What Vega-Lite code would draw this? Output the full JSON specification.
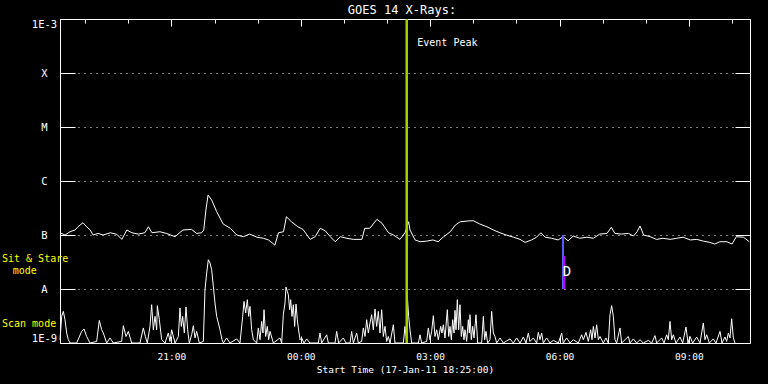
{
"$schema": "https://vega.github.io/schema/vega-lite/v6.json",
"width": 690, "height": 324,
"autosize": {"type": "none"},
"padding": {"left": 60, "top": 19, "right": 18, "bottom": 41},
"background": "black",
"title": {"text": "GOES 14 X-Rays:", "color": "white", "font": "DejaVu Sans Mono", "fontSize": 12, "fontWeight": "normal", "offset": 1, "dx": -3},
"config": {
 "view": {"stroke": "white", "strokeWidth": 1},
 "axis": {"labelFont": "DejaVu Sans Mono", "titleFont": "DejaVu Sans Mono", "labelColor": "white", "titleColor": "white", "tickColor": "white", "domainColor": "white", "titleFontWeight": "normal", "tickWidth": 1},
 "text": {"font": "DejaVu Sans Mono"}
},
"datasets": {
"u": [
{"t":"2011-01-17T18:25:00Z","f":1.10e-7},{"t":"2011-01-17T18:32:00Z","f":1.00e-7},{"t":"2011-01-17T18:39:00Z","f":1.15e-7},{"t":"2011-01-17T18:46:00Z","f":1.24e-7},{"t":"2011-01-17T18:50:00Z","f":1.42e-7},{"t":"2011-01-17T18:57:00Z","f":1.69e-7},{"t":"2011-01-17T19:02:00Z","f":1.42e-7},{"t":"2011-01-17T19:07:00Z","f":1.24e-7},{"t":"2011-01-17T19:11:00Z","f":1.00e-7},{"t":"2011-01-17T19:18:00Z","f":1.07e-7},{"t":"2011-01-17T19:25:00Z","f":1.00e-7},{"t":"2011-01-17T19:35:00Z","f":1.10e-7},{"t":"2011-01-17T19:44:00Z","f":1.03e-7},{"t":"2011-01-17T19:51:00Z","f":8.3e-8},{"t":"2011-01-17T19:58:00Z","f":1.24e-7},{"t":"2011-01-17T20:05:00Z","f":1.10e-7},{"t":"2011-01-17T20:14:00Z","f":1.04e-7},{"t":"2011-01-17T20:23:00Z","f":1.10e-7},{"t":"2011-01-17T20:28:00Z","f":1.42e-7},{"t":"2011-01-17T20:33:00Z","f":1.10e-7},{"t":"2011-01-17T20:44:00Z","f":1.15e-7},{"t":"2011-01-17T20:53:00Z","f":1.07e-7},{"t":"2011-01-17T21:05:00Z","f":9.3e-8},{"t":"2011-01-17T21:16:00Z","f":1.24e-7},{"t":"2011-01-17T21:28:00Z","f":1.27e-7},{"t":"2011-01-17T21:35:00Z","f":1.07e-7},{"t":"2011-01-17T21:42:00Z","f":1.10e-7},{"t":"2011-01-17T21:45:00Z","f":1.24e-7},{"t":"2011-01-17T21:48:00Z","f":2.9e-7},{"t":"2011-01-17T21:51:00Z","f":5.5e-7},{"t":"2011-01-17T21:56:00Z","f":4.45e-7},{"t":"2011-01-17T22:03:00Z","f":2.7e-7},{"t":"2011-01-17T22:12:00Z","f":1.6e-7},{"t":"2011-01-17T22:22:00Z","f":1.33e-7},{"t":"2011-01-17T22:31:00Z","f":1.0e-7},{"t":"2011-01-17T22:40:00Z","f":9.3e-8},{"t":"2011-01-17T22:49:00Z","f":1.04e-7},{"t":"2011-01-17T22:59:00Z","f":9.1e-8},{"t":"2011-01-17T23:08:00Z","f":8.7e-8},{"t":"2011-01-17T23:15:00Z","f":8.1e-8},{"t":"2011-01-17T23:24:00Z","f":6.5e-8},{"t":"2011-01-17T23:29:00Z","f":1.10e-7},{"t":"2011-01-17T23:36:00Z","f":1.15e-7},{"t":"2011-01-17T23:40:00Z","f":2.18e-7},{"t":"2011-01-17T23:47:00Z","f":1.76e-7},{"t":"2011-01-17T23:56:00Z","f":1.42e-7},
{"t":"2011-01-18T00:03:00Z","f":1.27e-7},{"t":"2011-01-18T00:13:00Z","f":8.3e-8},{"t":"2011-01-18T00:20:00Z","f":9.3e-8},{"t":"2011-01-18T00:27:00Z","f":1.33e-7},{"t":"2011-01-18T00:34:00Z","f":1.20e-7},{"t":"2011-01-18T00:41:00Z","f":9.3e-8},{"t":"2011-01-18T00:48:00Z","f":7.5e-8},{"t":"2011-01-18T00:55:00Z","f":9.3e-8},{"t":"2011-01-18T01:04:00Z","f":8.7e-8},{"t":"2011-01-18T01:13:00Z","f":8.3e-8},{"t":"2011-01-18T01:25:00Z","f":8.3e-8},{"t":"2011-01-18T01:29:00Z","f":1.33e-7},{"t":"2011-01-18T01:36:00Z","f":1.33e-7},{"t":"2011-01-18T01:46:00Z","f":1.95e-7},{"t":"2011-01-18T01:53:00Z","f":1.65e-7},{"t":"2011-01-18T02:02:00Z","f":1.10e-7},{"t":"2011-01-18T02:09:00Z","f":1.0e-7},{"t":"2011-01-18T02:18:00Z","f":8.3e-8},{"t":"2011-01-18T02:25:00Z","f":1.10e-7},{"t":"2011-01-18T02:30:00Z","f":1.76e-7},{"t":"2011-01-18T02:32:00Z","f":1.24e-7},{"t":"2011-01-18T02:39:00Z","f":8.1e-8},{"t":"2011-01-18T02:46:00Z","f":7.5e-8},{"t":"2011-01-18T02:55:00Z","f":7.7e-8},{"t":"2011-01-18T03:04:00Z","f":8.1e-8},{"t":"2011-01-18T03:11:00Z","f":7.5e-8},{"t":"2011-01-18T03:18:00Z","f":9.1e-8},{"t":"2011-01-18T03:28:00Z","f":1.15e-7},{"t":"2011-01-18T03:35:00Z","f":1.53e-7},{"t":"2011-01-18T03:42:00Z","f":1.76e-7},{"t":"2011-01-18T03:53:00Z","f":1.82e-7},{"t":"2011-01-18T04:00:00Z","f":1.84e-7},{"t":"2011-01-18T04:09:00Z","f":1.6e-7},{"t":"2011-01-18T04:19:00Z","f":1.42e-7},{"t":"2011-01-18T04:28:00Z","f":1.24e-7},{"t":"2011-01-18T04:37:00Z","f":1.10e-7},{"t":"2011-01-18T04:46:00Z","f":1.0e-7},{"t":"2011-01-18T04:56:00Z","f":9.1e-8},{"t":"2011-01-18T05:05:00Z","f":8.3e-8},{"t":"2011-01-18T05:12:00Z","f":7.3e-8},{"t":"2011-01-18T05:21:00Z","f":8.1e-8},{"t":"2011-01-18T05:28:00Z","f":9.1e-8},{"t":"2011-01-18T05:34:00Z","f":1.10e-7},{"t":"2011-01-18T05:40:00Z","f":9.1e-8},{"t":"2011-01-18T05:49:00Z","f":8.7e-8},{"t":"2011-01-18T05:58:00Z","f":8.1e-8},{"t":"2011-01-18T06:05:00Z","f":9.3e-8},{"t":"2011-01-18T06:12:00Z","f":7.8e-8},{"t":"2011-01-18T06:19:00Z","f":9.6e-8},{"t":"2011-01-18T06:28:00Z","f":8.7e-8},{"t":"2011-01-18T06:38:00Z","f":9.1e-8},{"t":"2011-01-18T06:47:00Z","f":8.7e-8},{"t":"2011-01-18T06:56:00Z","f":1.04e-7},{"t":"2011-01-18T07:06:00Z","f":1.07e-7},{"t":"2011-01-18T07:12:00Z","f":1.39e-7},{"t":"2011-01-18T07:17:00Z","f":1.07e-7},{"t":"2011-01-18T07:26:00Z","f":1.04e-7},{"t":"2011-01-18T07:36:00Z","f":1.07e-7},{"t":"2011-01-18T07:43:00Z","f":9.6e-8},{"t":"2011-01-18T07:48:00Z","f":1.15e-7},{"t":"2011-01-18T07:52:00Z","f":1.47e-7},{"t":"2011-01-18T07:57:00Z","f":1.0e-7},{"t":"2011-01-18T08:06:00Z","f":9.3e-8},{"t":"2011-01-18T08:15:00Z","f":8.3e-8},{"t":"2011-01-18T08:24:00Z","f":8.7e-8},{"t":"2011-01-18T08:34:00Z","f":8.3e-8},{"t":"2011-01-18T08:43:00Z","f":8.7e-8},{"t":"2011-01-18T08:52:00Z","f":9.1e-8},{"t":"2011-01-18T09:02:00Z","f":8.1e-8},{"t":"2011-01-18T09:11:00Z","f":8.3e-8},{"t":"2011-01-18T09:20:00Z","f":7.7e-8},{"t":"2011-01-18T09:29:00Z","f":7.3e-8},{"t":"2011-01-18T09:36:00Z","f":6.8e-8},{"t":"2011-01-18T09:43:00Z","f":7.5e-8},{"t":"2011-01-18T09:53:00Z","f":7.5e-8},{"t":"2011-01-18T10:00:00Z","f":6.8e-8},{"t":"2011-01-18T10:06:00Z","f":9.3e-8},{"t":"2011-01-18T10:16:00Z","f":9.1e-8},{"t":"2011-01-18T10:24:00Z","f":7.5e-8}
],
"s": [
{"t":"2011-01-17T18:25:00Z","f":1.15e-9},{"t":"2011-01-17T18:27:19Z","f":3.11e-9},{"t":"2011-01-17T18:29:38Z","f":3.85e-9},{"t":"2011-01-17T18:31:57Z","f":2.70e-9},{"t":"2011-01-17T18:34:17Z","f":1.53e-9},{"t":"2011-01-17T18:36:36Z","f":1.15e-9},{"t":"2011-01-17T18:38:55Z","f":1e-9},{"t":"2011-01-17T18:48:11Z","f":1e-9},{"t":"2011-01-17T18:55:09Z","f":1.64e-9},{"t":"2011-01-17T18:58:23Z","f":1.82e-9},{"t":"2011-01-17T19:02:06Z","f":1.32e-9},{"t":"2011-01-17T19:06:44Z","f":1e-9},{"t":"2011-01-17T19:16:01Z","f":1.07e-9},{"t":"2011-01-17T19:19:43Z","f":2.62e-9},{"t":"2011-01-17T19:22:58Z","f":1.76e-9},{"t":"2011-01-17T19:25:17Z","f":1.53e-9},{"t":"2011-01-17T19:29:56Z","f":1e-9},{"t":"2011-01-17T19:34:34Z","f":1.24e-9},{"t":"2011-01-17T19:39:12Z","f":1e-9},{"t":"2011-01-17T19:50:48Z","f":1.07e-9},{"t":"2011-01-17T19:53:07Z","f":2.09e-9},{"t":"2011-01-17T19:56:50Z","f":1.32e-9},{"t":"2011-01-17T20:00:04Z","f":1.64e-9},{"t":"2011-01-17T20:04:43Z","f":1e-9},{"t":"2011-01-17T20:16:18Z","f":1e-9},{"t":"2011-01-17T20:20:56Z","f":1.90e-9},{"t":"2011-01-17T20:23:44Z","f":1.32e-9},{"t":"2011-01-17T20:26:31Z","f":1e-9},{"t":"2011-01-17T20:30:13Z","f":2.03e-9},{"t":"2011-01-17T20:32:32Z","f":5.12e-9},{"t":"2011-01-17T20:34:52Z","f":1.76e-9},{"t":"2011-01-17T20:37:10Z","f":3.11e-9},{"t":"2011-01-17T20:39:29Z","f":1.76e-9},{"t":"2011-01-17T20:40:25Z","f":4.91e-9},{"t":"2011-01-17T20:43:12Z","f":2.70e-9},{"t":"2011-01-17T20:46:27Z","f":1.15e-9},{"t":"2011-01-17T20:51:05Z","f":1e-9},{"t":"2011-01-17T20:55:44Z","f":1.53e-9},{"t":"2011-01-17T20:58:02Z","f":1.07e-9},{"t":"2011-01-17T21:00:22Z","f":1.76e-9},{"t":"2011-01-17T21:05:00Z","f":1e-9},{"t":"2011-01-17T21:09:38Z","f":1.32e-9},{"t":"2011-01-17T21:11:58Z","f":4.45e-9},{"t":"2011-01-17T21:13:49Z","f":2.03e-9},{"t":"2011-01-17T21:15:40Z","f":3.11e-9},{"t":"2011-01-17T21:17:59Z","f":1.53e-9},{"t":"2011-01-17T21:20:19Z","f":4.64e-9},{"t":"2011-01-17T21:22:37Z","f":1.76e-9},{"t":"2011-01-17T21:24:56Z","f":1e-9},{"t":"2011-01-17T21:28:11Z","f":1.42e-9},{"t":"2011-01-17T21:30:31Z","f":2.09e-9},{"t":"2011-01-17T21:32:50Z","f":1.24e-9},{"t":"2011-01-17T21:35:09Z","f":1.64e-9},{"t":"2011-01-17T21:38:52Z","f":1e-9},{"t":"2011-01-17T21:44:25Z","f":1.07e-9},{"t":"2011-01-17T21:46:44Z","f":9.7e-9},{"t":"2011-01-17T21:49:04Z","f":1.98e-8},{"t":"2011-01-17T21:51:23Z","f":3.49e-8},{"t":"2011-01-17T21:53:42Z","f":3.03e-8},{"t":"2011-01-17T21:56:01Z","f":2.28e-8},{"t":"2011-01-17T21:58:20Z","f":1.12e-8},{"t":"2011-01-17T22:00:39Z","f":5.51e-9},{"t":"2011-01-17T22:02:58Z","f":3.11e-9},{"t":"2011-01-17T22:05:17Z","f":2.35e-9},{"t":"2011-01-17T22:07:37Z","f":1.76e-9},{"t":"2011-01-17T22:10:23Z","f":1.15e-9},{"t":"2011-01-17T22:12:15Z","f":1e-9},{"t":"2011-01-17T22:16:53Z","f":1.24e-9},{"t":"2011-01-17T22:21:31Z","f":1e-9},{"t":"2011-01-17T22:30:48Z","f":1.19e-9},{"t":"2011-01-17T22:35:26Z","f":1e-9},{"t":"2011-01-17T22:39:09Z","f":3.11e-9},{"t":"2011-01-17T22:41:00Z","f":5.89e-9},{"t":"2011-01-17T22:43:19Z","f":3.59e-9},{"t":"2011-01-17T22:45:38Z","f":6.34e-9},{"t":"2011-01-17T22:47:29Z","f":3.11e-9},{"t":"2011-01-17T22:49:21Z","f":4.76e-9},{"t":"2011-01-17T22:51:40Z","f":1.76e-9},{"t":"2011-01-17T22:53:59Z","f":1.15e-9},{"t":"2011-01-17T22:58:37Z","f":1e-9},{"t":"2011-01-17T23:00:56Z","f":1.90e-9},{"t":"2011-01-17T23:03:16Z","f":1.15e-9},{"t":"2011-01-17T23:05:35Z","f":2.51e-9},{"t":"2011-01-17T23:07:26Z","f":1.53e-9},{"t":"2011-01-17T23:08:50Z","f":4.14e-9},{"t":"2011-01-17T23:11:09Z","f":1.32e-9},{"t":"2011-01-17T23:13:28Z","f":2.03e-9},{"t":"2011-01-17T23:15:19Z","f":1.15e-9},{"t":"2011-01-17T23:17:11Z","f":1.64e-9},{"t":"2011-01-17T23:21:49Z","f":1e-9},{"t":"2011-01-17T23:31:05Z","f":1.24e-9},{"t":"2011-01-17T23:33:25Z","f":1e-9},{"t":"2011-01-17T23:35:44Z","f":3.34e-9},{"t":"2011-01-17T23:38:02Z","f":5.51e-9},{"t":"2011-01-17T23:39:26Z","f":1.09e-8},{"t":"2011-01-17T23:41:17Z","f":9.03e-9},{"t":"2011-01-17T23:42:41Z","f":7.84e-9},{"t":"2011-01-17T23:44:32Z","f":4.14e-9},{"t":"2011-01-17T23:45:56Z","f":6.34e-9},{"t":"2011-01-17T23:47:47Z","f":3.11e-9},{"t":"2011-01-17T23:49:38Z","f":5.12e-9},{"t":"2011-01-17T23:51:29Z","f":2.03e-9},{"t":"2011-01-17T23:53:21Z","f":5.27e-9},{"t":"2011-01-17T23:55:12Z","f":2.70e-9},{"t":"2011-01-17T23:56:36Z","f":1.90e-9},{"t":"2011-01-17T23:58:55Z","f":1.15e-9},
{"t":"2011-01-18T00:01:14Z","f":1.24e-9},{"t":"2011-01-18T00:04:29Z","f":1e-9},{"t":"2011-01-18T00:08:11Z","f":1.19e-9},{"t":"2011-01-18T00:12:50Z","f":1e-9},{"t":"2011-01-18T00:24:25Z","f":1e-9},{"t":"2011-01-18T00:26:44Z","f":1.53e-9},{"t":"2011-01-18T00:29:04Z","f":1e-9},{"t":"2011-01-18T00:36:01Z","f":1.42e-9},{"t":"2011-01-18T00:38:20Z","f":1e-9},{"t":"2011-01-18T00:47:37Z","f":1e-9},{"t":"2011-01-18T00:49:56Z","f":1.64e-9},{"t":"2011-01-18T00:52:43Z","f":1e-9},{"t":"2011-01-18T00:59:12Z","f":1.24e-9},{"t":"2011-01-18T01:02:55Z","f":1e-9},{"t":"2011-01-18T01:08:29Z","f":1e-9},{"t":"2011-01-18T01:10:48Z","f":1.64e-9},{"t":"2011-01-18T01:13:07Z","f":1e-9},{"t":"2011-01-18T01:17:46Z","f":1.53e-9},{"t":"2011-01-18T01:20:04Z","f":1e-9},{"t":"2011-01-18T01:24:43Z","f":1.07e-9},{"t":"2011-01-18T01:27:02Z","f":1.90e-9},{"t":"2011-01-18T01:29:21Z","f":1.32e-9},{"t":"2011-01-18T01:31:40Z","f":2.70e-9},{"t":"2011-01-18T01:33:59Z","f":1.53e-9},{"t":"2011-01-18T01:36:19Z","f":2.35e-9},{"t":"2011-01-18T01:38:37Z","f":3.34e-9},{"t":"2011-01-18T01:40:56Z","f":1.76e-9},{"t":"2011-01-18T01:43:16Z","f":4.26e-9},{"t":"2011-01-18T01:45:35Z","f":2.03e-9},{"t":"2011-01-18T01:47:54Z","f":3.85e-9},{"t":"2011-01-18T01:50:13Z","f":1.53e-9},{"t":"2011-01-18T01:52:32Z","f":4.14e-9},{"t":"2011-01-18T01:54:52Z","f":1.32e-9},{"t":"2011-01-18T01:57:10Z","f":2.03e-9},{"t":"2011-01-18T01:59:29Z","f":1.07e-9},{"t":"2011-01-18T02:01:49Z","f":1.32e-9},{"t":"2011-01-18T02:04:08Z","f":1e-9},{"t":"2011-01-18T02:08:46Z","f":2.18e-9},{"t":"2011-01-18T02:11:05Z","f":1e-9},{"t":"2011-01-18T02:22:41Z","f":1e-9},{"t":"2011-01-18T02:25:00Z","f":2.03e-9},{"t":"2011-01-18T02:27:19Z","f":1e-9},{"t":"2011-01-18T02:28:14Z","f":7.3e-9},{"t":"2011-01-18T02:30:06Z","f":3.11e-9},{"t":"2011-01-18T02:31:57Z","f":1.76e-9},{"t":"2011-01-18T02:34:16Z","f":1e-9},{"t":"2011-01-18T02:43:33Z","f":1e-9},{"t":"2011-01-18T02:45:52Z","f":1.42e-9},{"t":"2011-01-18T02:48:11Z","f":1e-9},{"t":"2011-01-18T02:55:08Z","f":1.07e-9},{"t":"2011-01-18T02:57:28Z","f":1.90e-9},{"t":"2011-01-18T02:59:47Z","f":1.15e-9},{"t":"2011-01-18T03:02:06Z","f":1.64e-9},{"t":"2011-01-18T03:04:25Z","f":3.2e-9},{"t":"2011-01-18T03:06:44Z","f":1.32e-9},{"t":"2011-01-18T03:09:03Z","f":1.76e-9},{"t":"2011-01-18T03:11:22Z","f":1.15e-9},{"t":"2011-01-18T03:14:37Z","f":2.03e-9},{"t":"2011-01-18T03:16:28Z","f":1.53e-9},{"t":"2011-01-18T03:18:20Z","f":2.18e-9},{"t":"2011-01-18T03:20:39Z","f":1.24e-9},{"t":"2011-01-18T03:23:54Z","f":4.14e-9},{"t":"2011-01-18T03:25:45Z","f":1.32e-9},{"t":"2011-01-18T03:27:37Z","f":2.03e-9},{"t":"2011-01-18T03:29:28Z","f":1.15e-9},{"t":"2011-01-18T03:31:19Z","f":2.70e-9},{"t":"2011-01-18T03:33:10Z","f":1.53e-9},{"t":"2011-01-18T03:34:34Z","f":4.02e-9},{"t":"2011-01-18T03:35:57Z","f":1.76e-9},{"t":"2011-01-18T03:37:49Z","f":6.34e-9},{"t":"2011-01-18T03:39:40Z","f":1.76e-9},{"t":"2011-01-18T03:41:31Z","f":5.12e-9},{"t":"2011-01-18T03:43:22Z","f":1.32e-9},{"t":"2011-01-18T03:45:14Z","f":2.03e-9},{"t":"2011-01-18T03:47:05Z","f":1.15e-9},{"t":"2011-01-18T03:48:29Z","f":1.76e-9},{"t":"2011-01-18T03:50:47Z","f":1.07e-9},{"t":"2011-01-18T03:53:07Z","f":2.70e-9},{"t":"2011-01-18T03:54:30Z","f":1.53e-9},{"t":"2011-01-18T03:55:26Z","f":3.34e-9},{"t":"2011-01-18T03:57:17Z","f":1.15e-9},{"t":"2011-01-18T03:59:08Z","f":2.03e-9},{"t":"2011-01-18T04:01:00Z","f":1.24e-9},{"t":"2011-01-18T04:03:47Z","f":3.34e-9},{"t":"2011-01-18T04:06:06Z","f":1e-9},{"t":"2011-01-18T04:11:40Z","f":1e-9},{"t":"2011-01-18T04:13:59Z","f":3.11e-9},{"t":"2011-01-18T04:15:50Z","f":1.15e-9},{"t":"2011-01-18T04:17:41Z","f":1.64e-9},{"t":"2011-01-18T04:20:01Z","f":1e-9},{"t":"2011-01-18T04:23:16Z","f":1.15e-9},{"t":"2011-01-18T04:25:35Z","f":3.85e-9},{"t":"2011-01-18T04:27:54Z","f":1.53e-9},{"t":"2011-01-18T04:30:13Z","f":1.32e-9},{"t":"2011-01-18T04:32:32Z","f":1e-9},{"t":"2011-01-18T04:37:10Z","f":1.24e-9},{"t":"2011-01-18T04:41:49Z","f":1e-9},{"t":"2011-01-18T04:51:05Z","f":1.19e-9},{"t":"2011-01-18T04:55:43Z","f":1e-9},{"t":"2011-01-18T05:00:22Z","f":1.24e-9},{"t":"2011-01-18T05:04:59Z","f":1e-9},{"t":"2011-01-18T05:09:38Z","f":1.29e-9},{"t":"2011-01-18T05:13:21Z","f":1e-9},{"t":"2011-01-18T05:16:35Z","f":1.53e-9},{"t":"2011-01-18T05:18:55Z","f":1.07e-9},{"t":"2011-01-18T05:23:33Z","f":1.24e-9},{"t":"2011-01-18T05:28:11Z","f":1e-9},{"t":"2011-01-18T05:30:30Z","f":1.57e-9},{"t":"2011-01-18T05:32:49Z","f":1.15e-9},{"t":"2011-01-18T05:35:08Z","f":1.53e-9},{"t":"2011-01-18T05:37:28Z","f":1e-9},{"t":"2011-01-18T05:42:06Z","f":1.24e-9},{"t":"2011-01-18T05:46:44Z","f":1e-9},{"t":"2011-01-18T05:51:22Z","f":1.12e-9},{"t":"2011-01-18T05:58:20Z","f":1e-9},{"t":"2011-01-18T06:02:58Z","f":1.53e-9},{"t":"2011-01-18T06:05:17Z","f":1e-9},{"t":"2011-01-18T06:09:56Z","f":1.24e-9},{"t":"2011-01-18T06:14:34Z","f":1e-9},{"t":"2011-01-18T06:19:12Z","f":1.15e-9},{"t":"2011-01-18T06:26:10Z","f":1e-9},{"t":"2011-01-18T06:30:47Z","f":1.42e-9},{"t":"2011-01-18T06:33:07Z","f":1.15e-9},{"t":"2011-01-18T06:36:49Z","f":1.57e-9},{"t":"2011-01-18T06:40:04Z","f":1.07e-9},{"t":"2011-01-18T06:43:19Z","f":1.76e-9},{"t":"2011-01-18T06:45:10Z","f":1.15e-9},{"t":"2011-01-18T06:47:02Z","f":2.03e-9},{"t":"2011-01-18T06:49:21Z","f":1.24e-9},{"t":"2011-01-18T06:51:40Z","f":2.18e-9},{"t":"2011-01-18T06:53:59Z","f":1.15e-9},{"t":"2011-01-18T06:56:18Z","f":1.32e-9},{"t":"2011-01-18T07:00:56Z","f":1e-9},{"t":"2011-01-18T07:04:39Z","f":1.24e-9},{"t":"2011-01-18T07:07:54Z","f":1e-9},{"t":"2011-01-18T07:10:13Z","f":3.34e-9},{"t":"2011-01-18T07:12:32Z","f":4.91e-9},{"t":"2011-01-18T07:14:51Z","f":3.11e-9},{"t":"2011-01-18T07:17:10Z","f":1.15e-9},{"t":"2011-01-18T07:19:29Z","f":1e-9},{"t":"2011-01-18T07:24:08Z","f":1.90e-9},{"t":"2011-01-18T07:26:27Z","f":1e-9},{"t":"2011-01-18T07:35:43Z","f":1.32e-9},{"t":"2011-01-18T07:38:02Z","f":1e-9},{"t":"2011-01-18T07:42:41Z","f":1.19e-9},{"t":"2011-01-18T07:47:19Z","f":1e-9},{"t":"2011-01-18T07:51:57Z","f":1.15e-9},{"t":"2011-01-18T07:56:35Z","f":1e-9},{"t":"2011-01-18T08:03:33Z","f":1.12e-9},{"t":"2011-01-18T08:08:11Z","f":1e-9},{"t":"2011-01-18T08:12:49Z","f":1.37e-9},{"t":"2011-01-18T08:15:08Z","f":1e-9},{"t":"2011-01-18T08:22:06Z","f":1.24e-9},{"t":"2011-01-18T08:25:21Z","f":1e-9},{"t":"2011-01-18T08:29:04Z","f":1.42e-9},{"t":"2011-01-18T08:31:22Z","f":1.15e-9},{"t":"2011-01-18T08:33:41Z","f":2.51e-9},{"t":"2011-01-18T08:36:01Z","f":1.15e-9},{"t":"2011-01-18T08:38:20Z","f":1.42e-9},{"t":"2011-01-18T08:42:02Z","f":1e-9},{"t":"2011-01-18T08:47:37Z","f":1.29e-9},{"t":"2011-01-18T08:51:19Z","f":1e-9},{"t":"2011-01-18T08:55:57Z","f":1.98e-9},{"t":"2011-01-18T08:58:44Z","f":1e-9},{"t":"2011-01-18T09:01:31Z","f":1.32e-9},{"t":"2011-01-18T09:05:14Z","f":1e-9},{"t":"2011-01-18T09:10:48Z","f":1.29e-9},{"t":"2011-01-18T09:15:26Z","f":1e-9},{"t":"2011-01-18T09:20:04Z","f":2.35e-9},{"t":"2011-01-18T09:22:23Z","f":1.15e-9},{"t":"2011-01-18T09:24:43Z","f":1.42e-9},{"t":"2011-01-18T09:28:25Z","f":1e-9},{"t":"2011-01-18T09:33:59Z","f":1.19e-9},{"t":"2011-01-18T09:37:41Z","f":1e-9},{"t":"2011-01-18T09:43:16Z","f":1.64e-9},{"t":"2011-01-18T09:46:02Z","f":1e-9},{"t":"2011-01-18T09:50:13Z","f":1.29e-9},{"t":"2011-01-18T09:52:32Z","f":1.07e-9},{"t":"2011-01-18T09:54:51Z","f":1.53e-9},{"t":"2011-01-18T09:57:10Z","f":1.24e-9},{"t":"2011-01-18T09:59:29Z","f":2.82e-9},{"t":"2011-01-18T10:01:49Z","f":1.24e-9},{"t":"2011-01-18T10:04:08Z","f":1e-9}
]
},
"resolve": {"scale": {"x": "shared", "y": "shared"}, "axis": {"x": "independent", "y": "independent"}},
"layer": [
{
 "data": {"name": "s"},
 "mark": {"type": "line", "color": "white", "strokeWidth": 1},
 "encoding": {
  "x": {"field": "t", "type": "temporal",
   "scale": {"type": "utc", "domain": [{"year":2011,"month":1,"date":17,"hours":18,"minutes":25,"utc":true},{"year":2011,"month":1,"date":18,"hours":10,"minutes":25,"utc":true}]},
   "axis": {"orient": "top", "labels": false, "ticks": true, "tickSize": -4, "domain": false, "grid": false, "title": null,
    "values": [{"year":2011,"month":1,"date":17,"hours":19,"utc":true},{"year":2011,"month":1,"date":17,"hours":20,"utc":true},{"year":2011,"month":1,"date":17,"hours":21,"utc":true},{"year":2011,"month":1,"date":17,"hours":22,"utc":true},{"year":2011,"month":1,"date":17,"hours":23,"utc":true},{"year":2011,"month":1,"date":18,"hours":0,"utc":true},{"year":2011,"month":1,"date":18,"hours":1,"utc":true},{"year":2011,"month":1,"date":18,"hours":2,"utc":true},{"year":2011,"month":1,"date":18,"hours":3,"utc":true},{"year":2011,"month":1,"date":18,"hours":4,"utc":true},{"year":2011,"month":1,"date":18,"hours":5,"utc":true},{"year":2011,"month":1,"date":18,"hours":6,"utc":true},{"year":2011,"month":1,"date":18,"hours":7,"utc":true},{"year":2011,"month":1,"date":18,"hours":8,"utc":true},{"year":2011,"month":1,"date":18,"hours":9,"utc":true},{"year":2011,"month":1,"date":18,"hours":10,"utc":true}]}},
  "y": {"field": "f", "type": "quantitative", "scale": {"type": "log", "domain": [1e-9, 1e-3]},
   "axis": {"orient": "right", "values": [1e-9,1e-8,1e-7,1e-6,1e-5,1e-4,1e-3], "labels": false, "tickSize": -15, "domain": false, "grid": false, "title": null}}
 }
},
{
 "data": {"name": "u"},
 "mark": {"type": "line", "color": "white", "strokeWidth": 1},
 "encoding": {
  "x": {"field": "t", "type": "temporal",
   "scale": {"type": "utc", "domain": [{"year":2011,"month":1,"date":17,"hours":18,"minutes":25,"utc":true},{"year":2011,"month":1,"date":18,"hours":10,"minutes":25,"utc":true}]},
   "axis": {"orient": "bottom", "labelExpr": "utcFormat(datum.value, '%H:%M')", "ticks": false, "domain": false, "grid": false, "labelPadding": 8, "labelFontSize": 9.5, "title": "Start Time (17-Jan-11 18:25:00)", "titleFontSize": 9.5, "titlePadding": 4,
    "values": [{"year":2011,"month":1,"date":17,"hours":21,"utc":true},{"year":2011,"month":1,"date":18,"hours":0,"utc":true},{"year":2011,"month":1,"date":18,"hours":3,"utc":true},{"year":2011,"month":1,"date":18,"hours":6,"utc":true},{"year":2011,"month":1,"date":18,"hours":9,"utc":true}]}},
  "y": {"field": "f", "type": "quantitative", "scale": {"type": "log", "domain": [1e-9, 1e-3]},
   "axis": {"orient": "left", "values": [1e-9,1e-8,1e-7,1e-6,1e-5,1e-4,1e-3], "ticks": false, "domain": false, "grid": true, "gridDash": [1,5], "gridColor": "white", "gridOpacity": 1, "labelAlign": "center", "labelPadding": 16, "labelFlush": true, "labelFontSize": 10.5, "title": null,
    "labelExpr": "datum.value > 5e-4 ? '1E-3' : datum.value > 5e-5 ? 'X' : datum.value > 5e-6 ? 'M' : datum.value > 5e-7 ? 'C' : datum.value > 5e-8 ? 'B' : datum.value > 5e-9 ? 'A' : '1E-9'"}}
 }
},
{
 "data": {"values": [{}]},
 "mark": {"type": "rule", "color": "#a4d000", "strokeWidth": 2.5},
 "encoding": {
  "x": {"datum": {"year":2011,"month":1,"date":18,"hours":2,"minutes":27,"seconds":24,"utc":true}, "type": "temporal",
   "scale": {"type": "utc", "domain": [{"year":2011,"month":1,"date":17,"hours":18,"minutes":25,"utc":true},{"year":2011,"month":1,"date":18,"hours":10,"minutes":25,"utc":true}]},
   "axis": {"orient": "top", "labels": false, "tickSize": -7, "domain": false, "grid": false, "title": null,
    "values": [{"year":2011,"month":1,"date":17,"hours":21,"utc":true},{"year":2011,"month":1,"date":18,"hours":0,"utc":true},{"year":2011,"month":1,"date":18,"hours":3,"utc":true},{"year":2011,"month":1,"date":18,"hours":6,"utc":true},{"year":2011,"month":1,"date":18,"hours":9,"utc":true}]}}
 }
},
{
 "data": {"values": [{"label": "Event Peak"}]},
 "mark": {"type": "text", "color": "white", "align": "left", "baseline": "middle", "fontSize": 10},
 "encoding": {
  "x": {"datum": {"year":2011,"month":1,"date":18,"hours":2,"minutes":42,"seconds":6,"utc":true}, "type": "temporal", "axis": null},
  "y": {"datum": 3.59e-4, "type": "quantitative", "axis": null},
  "text": {"field": "label"}
 }
},
{
 "data": {"values": [{}]},
 "mark": {"type": "rule", "color": "#5a5aff", "strokeWidth": 2},
 "encoding": {
  "x": {"datum": {"year":2011,"month":1,"date":18,"hours":6,"minutes":4,"seconds":48,"utc":true}, "type": "temporal",
   "axis": {"orient": "bottom", "labels": false, "tickSize": -7, "domain": false, "grid": false, "title": null,
    "values": [{"year":2011,"month":1,"date":17,"hours":21,"utc":true},{"year":2011,"month":1,"date":18,"hours":0,"utc":true},{"year":2011,"month":1,"date":18,"hours":3,"utc":true},{"year":2011,"month":1,"date":18,"hours":6,"utc":true},{"year":2011,"month":1,"date":18,"hours":9,"utc":true}]}},
  "y": {"datum": 1e-7, "type": "quantitative",
   "axis": {"orient": "left", "values": [1e-9,1e-8,1e-7,1e-6,1e-5,1e-4,1e-3], "labels": false, "tickSize": -15, "domain": false, "grid": false, "title": null}},
  "y2": {"datum": 1e-8}
 }
},
{
 "data": {"values": [{}]},
 "mark": {"type": "rule", "color": "#c000ff", "strokeWidth": 2},
 "encoding": {
  "x": {"datum": {"year":2011,"month":1,"date":18,"hours":6,"minutes":6,"seconds":30,"utc":true}, "type": "temporal", "axis": null},
  "y": {"datum": 4.08e-8, "type": "quantitative", "axis": null},
  "y2": {"datum": 1e-8}
 }
},
{
 "data": {"values": [{"label": "D"}]},
 "mark": {"type": "text", "color": "white", "align": "left", "baseline": "middle", "fontSize": 14},
 "encoding": {
  "x": {"datum": {"year":2011,"month":1,"date":18,"hours":6,"minutes":4,"seconds":30,"utc":true}, "type": "temporal", "axis": null},
  "y": {"datum": 2.07e-8, "type": "quantitative", "axis": null},
  "text": {"field": "label"}
 }
},
{
 "data": {"values": [{"label": "Sit & Stare"}]},
 "mark": {"type": "text", "color": "#ffff00", "align": "left", "baseline": "middle", "fontSize": 10},
 "encoding": {
  "x": {"datum": {"year":2011,"month":1,"date":17,"hours":17,"minutes":4,"seconds":18,"utc":true}, "type": "temporal", "axis": null},
  "y": {"datum": 3.67e-8, "type": "quantitative", "axis": null},
  "text": {"field": "label"}
 }
},
{
 "data": {"values": [{"label": "mode"}]},
 "mark": {"type": "text", "color": "#ffff00", "align": "left", "baseline": "middle", "fontSize": 10},
 "encoding": {
  "x": {"datum": {"year":2011,"month":1,"date":17,"hours":17,"minutes":19,"seconds":12,"utc":true}, "type": "temporal", "axis": null},
  "y": {"datum": 2.11e-8, "type": "quantitative", "axis": null},
  "text": {"field": "label"}
 }
},
{
 "data": {"values": [{"label": "Scan mode"}]},
 "mark": {"type": "text", "color": "#ffff00", "align": "left", "baseline": "middle", "fontSize": 10},
 "encoding": {
  "x": {"datum": {"year":2011,"month":1,"date":17,"hours":17,"minutes":4,"seconds":18,"utc":true}, "type": "temporal", "axis": null},
  "y": {"datum": 2.25e-9, "type": "quantitative", "axis": null},
  "text": {"field": "label"}
 }
}
]
}
